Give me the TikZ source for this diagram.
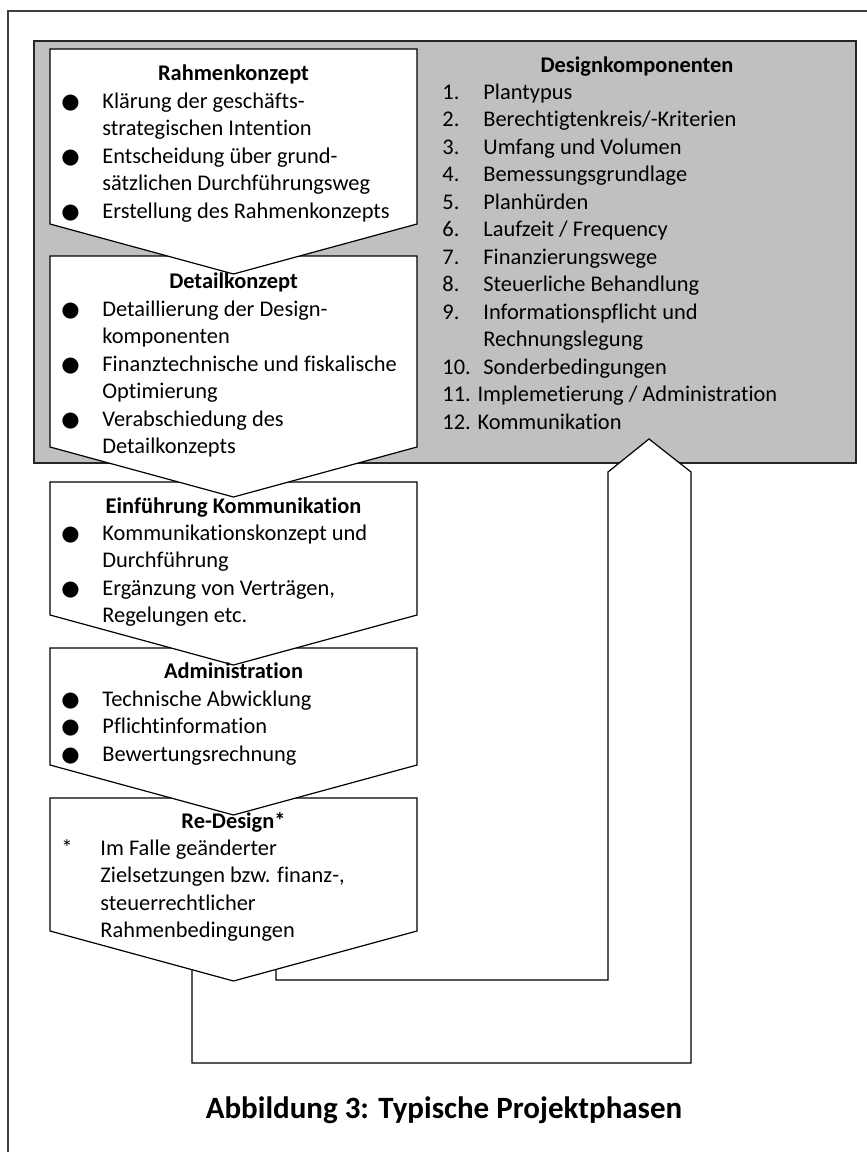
\documentclass[tikz,border=0pt]{standalone}
\usepackage{fontspec}
\setmainfont[Ligatures=NoCommon]{Carlito}
\newfontfamily\symfont{DejaVu Sans}
\usetikzlibrary{positioning}

\definecolor{panelgrey}{HTML}{C0C0C0}
\newcommand{\bul}{{\symfont\fontsize{10.5}{10.5}\selectfont ●}}

\begin{document}
\begin{tikzpicture}[
    x=0.5pt, y=-0.5pt,
    every node/.style={font=\fontsize{11.2}{13.75}\selectfont, inner sep=0pt},
    frameline/.style={draw=black!75, line width=0.6pt},
    panel/.style={draw=black!85, line width=0.6pt, fill=panelgrey},
    phase/.style={draw=black, line width=0.6pt, fill=white, line join=miter},
    heading/.style={anchor=base, font=\fontsize{11.2}{13.75}\selectfont\bfseries},
    items/.style={anchor=base west, align=left}
]
\useasboundingbox (0,0) rectangle (867,1152);

% Outer frame
\draw [frameline] (867,11) -- (8,11) -- (8,1152);

% Design components panel
\draw [panel] (34,41) rectangle (856,463);

% Feedback loop from Re-Design back to the panel
\draw [phase] (192,950) -- (192,1063) -- (691,1063) -- (691,472) -- (649,439)
    -- (608,472) -- (608,980) -- (276,980) -- (276,950) -- cycle;

% Phases (bottom one first, so each tip lies over the next box)
\foreach \top/\bot in {798/931, 648/765, 482/615, 256/447, 49/224}
    \draw [phase] (50,\top) -- (417,\top) -- (417,\bot) -- (233.5,\bot+50) -- (50,\bot) -- cycle;

% Rahmenkonzept
\node (rk) [heading] at (233.5,80) {Rahmenkonzept};
\node (rkitems) [items] at (61,108) {\begin{tabular}[t]{@{}p{20.5pt}@{}l@{}}
    \bul & Klärung der geschäfts-\\
         & strategischen Intention\\
    \bul & Entscheidung über grund-\\
         & sätzlichen Durchführungsweg\\
    \bul & Erstellung des Rahmenkonzepts
\end{tabular}};

% Detailkonzept
\node (dk) [heading] at (233.5,288) {Detailkonzept};
\node (dkitems) [items] at (61,316) {\begin{tabular}[t]{@{}p{20.5pt}@{}l@{}}
    \bul & Detaillierung der Design-\\
         & komponenten\\
    \bul & Finanztechnische und fiskalische\\
         & Optimierung\\
    \bul & Verabschiedung des\\
         & Detailkonzepts
\end{tabular}};

% Einfuehrung Kommunikation
\node (ek) [heading] at (233.5,513) {Einführung Kommunikation};
\node (ekitems) [items] at (61,540) {\begin{tabular}[t]{@{}p{20.5pt}@{}l@{}}
    \bul & Kommunikationskonzept und\\
         & Durchführung\\
    \bul & Ergänzung von Verträgen,\\
         & Regelungen etc.
\end{tabular}};

% Administration
\node (ad) [heading] at (233.5,678) {Administration};
\node (aditems) [items] at (61,706) {\begin{tabular}[t]{@{}p{20.5pt}@{}l@{}}
    \bul & Technische Abwicklung\\
    \bul & Pflichtinformation\\
    \bul & Bewertungsrechnung
\end{tabular}};

% Re-Design
\node (rd) [heading] at (233.5,828) {Re-Design*};
\node (rditems) [items] at (61,855) {\begin{tabular}[t]{@{}p{19.5pt}@{}l@{}}
    *    & Im Falle geänderter\\
         & Zielsetzungen bzw. finanz-,\\
         & steuerrechtlicher\\
         & Rahmenbedingungen
\end{tabular}};

% Designkomponenten
\node (dc) [heading] at (637,72) {Designkomponenten};
\node (dcitems) [items] at (442,99) {\begin{tabular}[t]{@{}p{20.5pt}@{}l@{}}
    1.  & Plantypus\\
    2.  & Berechtigtenkreis/-Kriterien\\
    3.  & Umfang und Volumen\\
    4.  & Bemessungsgrundlage\\
    5.  & Planhürden\\
    6.  & Laufzeit / Frequency\\
    7.  & Finanzierungswege\\
    8.  & Steuerliche Behandlung\\
    9.  & Informationspflicht und\\
        & Rechnungslegung\\
    10. & Sonderbedingungen\\
    \multicolumn{2}{@{}l@{}}{11. Implemetierung / Administration}\\
    \multicolumn{2}{@{}l@{}}{12. Kommunikation}
\end{tabular}};

% Caption
\node (caption) [anchor=base, font=\fontsize{15.5}{18}\selectfont\bfseries] at (444,1118) {Abbildung 3: Typische Projektphasen};

\end{tikzpicture}
\end{document}
